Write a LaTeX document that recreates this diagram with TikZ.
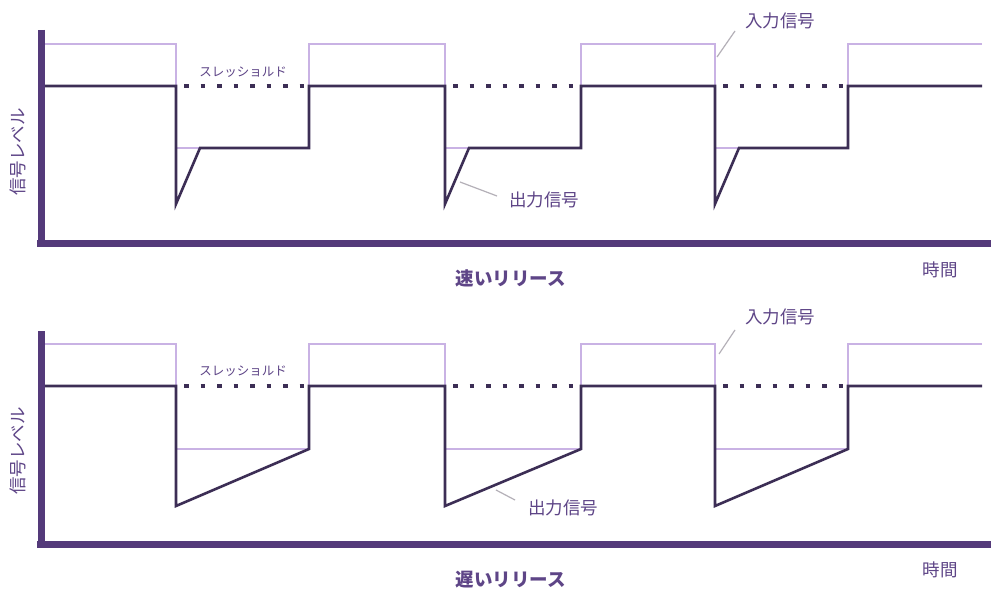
\documentclass[tikz,border=0pt]{standalone}
\usepackage{fontspec}
\newfontfamily\cjk{Noto Sans CJK JP}
\definecolor{axiscol}{HTML}{543A7A}
\definecolor{outcol}{HTML}{3C2E55}
\definecolor{incol}{HTML}{C9B2E4}
\definecolor{txtcol}{HTML}{5E4587}
\definecolor{leadcol}{HTML}{B4B0B8}
\tikzset{
  axisline/.style={draw=axiscol, line width=7pt},
  outline/.style={draw=outcol, line width=2.6pt, line join=miter},
  inline/.style={draw=incol, line width=1.6pt},
  thresh/.style={draw=outcol, line width=3.5pt, dash pattern=on 4.5pt off 12pt},
  leader/.style={draw=leadcol, line width=1.2pt},
  lbl/.style={text=txtcol, font=\cjk\fontsize{17.5}{20}\selectfont, inner sep=1pt},
  small/.style={text=txtcol, font=\cjk\fontsize{12.5}{14}\selectfont, inner sep=1pt},
  ttl/.style={text=txtcol, font=\cjk\bfseries\fontsize{18.5}{21}\selectfont, inner sep=1pt},
}
\begin{document}
\begin{tikzpicture}[x=1pt, y=-1pt]
\useasboundingbox (0,0) rectangle (991,591);
\fill[white] (0,0) rectangle (991,591);

% ---------- top panel (fast release) ----------
\begin{scope}
% input
\draw[inline] (44,44) -- (176,44) -- (176,148) -- (309,148) -- (309,44) -- (445,44) -- (445,148) -- (581,148) -- (581,44) -- (715,44) -- (715,148) -- (848,148) -- (848,44) -- (982,44);
% threshold dots
\draw[thresh] (184,86) -- (309,86);
\draw[thresh] (453,86) -- (581,86);
\draw[thresh] (723,86) -- (848,86);
% output
\draw[outline] (41,86) -- (176,86) -- (176,204) -- (200,148) -- (309,148) -- (309,86) -- (445,86) -- (445,204) -- (469,148) -- (581,148) -- (581,86) -- (715,86) -- (715,204) -- (739,148) -- (848,148) -- (848,86) -- (982,86);
% axes
\draw[axisline] (41,30) -- (41,246);
\draw[axisline] (37,243) -- (991,243);
% labels
\node[small] (thA) at (243,72) {スレッショルド};
\node[lbl] (outA) at (544,200) {出力信号};
\node[lbl] (inA) at (780,21) {入力信号};
\coordinate (outAp) at (460,182);
\coordinate (inAp) at (717,57);
\draw[leader] (outAp) -- (497,196);
\draw[leader] (inAp) -- (735,31);
\node[ttl] (ttlA) at (511,278) {速いリリース};
\node[lbl] (timeA) at (940,270) {時間};
\node[lbl, rotate=90] (levA) at (18,152) {信号レベル};
\end{scope}

% ---------- bottom panel (slow release) ----------
\begin{scope}
\draw[inline] (44,344) -- (176,344) -- (176,449) -- (309,449) -- (309,344) -- (445,344) -- (445,449) -- (581,449) -- (581,344) -- (715,344) -- (715,449) -- (848,449) -- (848,344) -- (982,344);
\draw[thresh] (184,386) -- (309,386);
\draw[thresh] (453,386) -- (581,386);
\draw[thresh] (723,386) -- (848,386);
\draw[outline] (41,386) -- (176,386) -- (176,506) -- (309,449) -- (309,386) -- (445,386) -- (445,506) -- (581,449) -- (581,386) -- (715,386) -- (715,506) -- (848,449) -- (848,386) -- (982,386);
\draw[axisline] (41,331) -- (41,548);
\draw[axisline] (37,544) -- (991,544);
\node[small] (thB) at (243,371) {スレッショルド};
\node[lbl] (outB) at (563,508) {出力信号};
\node[lbl] (inB) at (780,317) {入力信号};
\coordinate (outBp) at (496,490);
\coordinate (inBp) at (719,354);
\draw[leader] (outBp) -- (515,500);
\draw[leader] (inBp) -- (735,330);
\node[ttl] (ttlB) at (511,580) {遅いリリース};
\node[lbl] (timeB) at (940,570) {時間};
\node[lbl, rotate=90] (levB) at (18,451) {信号レベル};
\end{scope}
\end{tikzpicture}
\end{document}
